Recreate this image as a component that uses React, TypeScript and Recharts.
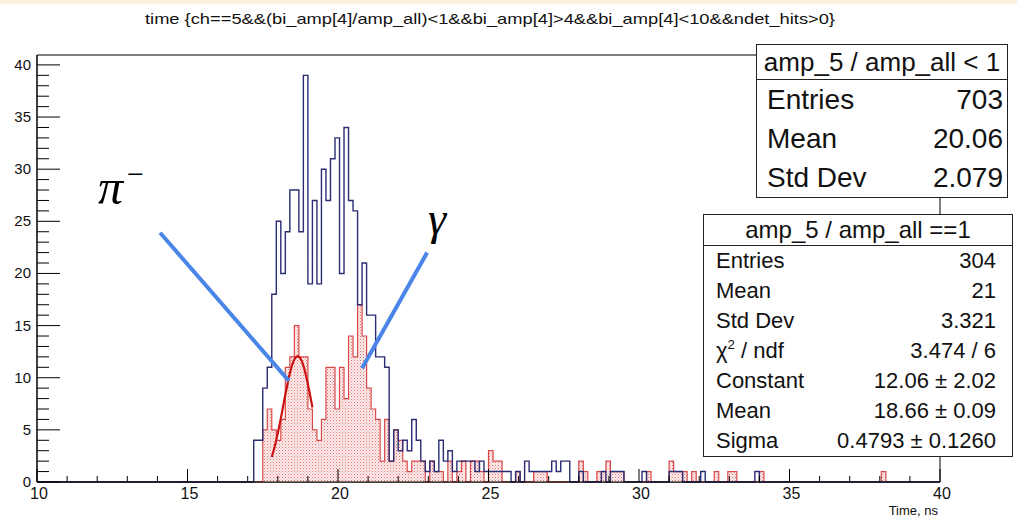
import {
  ComposedChart,
  Line,
  Area,
  XAxis,
  YAxis,
  ReferenceLine,
  ReferenceArea,
} from "recharts";

const W = 1017;
const H = 520;

// binning of the time histograms
const BIN_LOW = 10;
const BIN_WIDTH = 0.15;
const N_BINS = 200;
const Y_MAX = 40.95;

// amp_5 / amp_all < 1, counts from bin 48 (17.2 ns) on
const BLUE_FIRST_BIN = 48;
const blueCounts = [
  4, 4, 9, 11, 18, 25, 20, 24, 28, 28,
  24, 39, 19, 27, 19, 30, 27, 31, 33, 20,
  34, 27, 26, 17, 21, 16, 16, 12, 12, 11,
  2, 5, 3, 4, 3, 6, 4, 2, 1, 2,
  1, 4, 2, 3, 1, 2, 2, 2, 2, 1,
  2, 1, 1, 1, 1, 1, 1, 0, 1, 0,
  2, 1, 1, 1, 1, 1, 2, 1, 2, 2,
  0, 0, 1, 0, 0, 0, 0, 1, 0, 1,
  1, 1, 0, 0, 0, 0, 1, 0, 0, 0,
  0, 0, 1, 1, 1, 0, 0, 0, 0, 1,
  0, 0, 0, 0, 0, 0, 0, 0, 0, 0,
  0, 1,
];

// amp_5 / amp_all == 1, counts from bin 50 (17.5 ns) on
const RED_FIRST_BIN = 50;
const redCounts = [
  5, 7, 5, 4, 6, 11, 12, 15, 12, 12,
  7, 5, 4, 6, 11, 11, 7, 11, 8, 14,
  12, 17, 14, 9, 7, 6, 2, 6, 2, 5,
  4, 2, 1, 2, 2, 2, 0, 2, 1, 1,
  0, 2, 0, 1, 2, 0, 2, 2, 1, 0,
  3, 2, 2, 0, 0, 0, 1, 0, 0, 0,
  1, 1, 1, 0, 0, 0, 0, 0, 0, 0,
  2, 1, 0, 0, 1, 1, 2, 1, 1, 1,
  0, 0, 0, 0, 0, 1, 0, 0, 0, 0,
  2, 1, 1, 1, 0, 1, 0, 0, 0, 0,
  1, 0, 0, 1, 1, 0, 0, 0, 0, 0,
  1, 0, 0, 0, 0, 0, 0, 0, 0, 0,
  0, 0, 0, 0, 0, 0, 0, 0, 0, 0,
  0, 0, 0, 0, 0, 0, 0, 1,
];

// gaus fit to the red histogram
const FIT_CONSTANT = 12.06;
const FIT_MEAN = 18.66;
const FIT_SIGMA = 0.4793;
const FIT_FROM = 17.8;
const FIT_TO = 19.15;

const xTicks = Array.from({ length: 31 }, (_, i) => 10 + i);
const yTicks = Array.from({ length: 41 }, (_, i) => i);

// arrows pointing at the two peaks
const piArrow = [{ x: 14.09, y: 23.9 }, { x: 18.37, y: 9.7 }];
const gammaArrow = [{ x: 22.96, y: 22.0 }, { x: 20.8, y: 10.9 }];

const statsAll = {
  title: "amp_5 / amp_all < 1",
  rows: [
    ["Entries", "703"],
    ["Mean", "20.06"],
    ["Std Dev", "2.079"],
  ],
};

const statsOne = {
  title: "amp_5 / amp_all ==1",
  rows: [
    ["Entries", "304"],
    ["Mean", "21"],
    ["Std Dev", "3.321"],
    ["chi2", "3.474 / 6"],
    ["Constant", "12.06 \u00b1 2.02"],
    ["Mean", "18.66 \u00b1 0.09"],
    ["Sigma", "0.4793 \u00b1 0.1260"],
  ],
};

const countAt = (arr: number[], first: number, bin: number) => {
  const j = bin - first;
  return j >= 0 && j < arr.length ? arr[j] : 0;
};

const histData = Array.from({ length: N_BINS + 1 }, (_, i) => {
  const bin = Math.min(i, N_BINS - 1);
  return {
    x: +(BIN_LOW + i * BIN_WIDTH).toFixed(2),
    blue: countAt(blueCounts, BLUE_FIRST_BIN, bin),
    red: countAt(redCounts, RED_FIRST_BIN, bin),
  };
});

const fitData = Array.from({ length: 41 }, (_, i) => {
  const x = FIT_FROM + ((FIT_TO - FIT_FROM) * i) / 40;
  const z = (x - FIT_MEAN) / FIT_SIGMA;
  return { x, fit: FIT_CONSTANT * Math.exp(-0.5 * z * z) };
});

const font = "'Liberation Sans', Arial, Helvetica, sans-serif";
const serif = "'Liberation Serif', 'Times New Roman', serif";

function YTick(props: any) {
  const { x, y, payload } = props;
  const v = payload.value;
  const major = v % 5 === 0;
  return (
    <g>
      <line x1={x} x2={x + (major ? 23 : 12)} y1={y} y2={y} stroke="#000" />
      {major && (
        <text x={x - 6} y={y + 5} textAnchor="end" fontSize={15} fill="#111" fontFamily={font}>
          {v}
        </text>
      )}
    </g>
  );
}

function XTick(props: any) {
  const { x, y, payload } = props;
  const v = payload.value;
  const major = v % 5 === 0;
  return (
    <g>
      <line x1={x} x2={x} y1={y} y2={y - (major ? 13 : 6)} stroke="#000" />
      {major && (
        <text x={x + 2} y={y + 17} textAnchor="middle" fontSize={16} fill="#111" fontFamily={font}>
          {v}
        </text>
      )}
    </g>
  );
}

function StatsBox({
  stats,
  left,
  top,
  width,
  titleH,
  rowH,
  titleSize,
  rowSize,
  padL,
  padR,
}: any) {
  return (
    <div
      style={{
        position: "absolute",
        left,
        top,
        width,
        background: "#fff",
        border: "1px solid #222",
        fontFamily: font,
        color: "#111",
        boxSizing: "border-box",
      }}
    >
      <div
        style={{
          height: titleH,
          lineHeight: `${titleH}px`,
          fontSize: titleSize,
          textAlign: "center",
          borderBottom: "1px solid #222",
        }}
      >
        {stats.title}
      </div>
      {stats.rows.map(([k, v]: string[], i: number) => (
        <div
          key={i}
          style={{
            height: rowH,
            lineHeight: `${rowH}px`,
            fontSize: rowSize,
            display: "flex",
            justifyContent: "space-between",
            paddingLeft: padL,
            paddingRight: padR,
            overflow: "hidden",
          }}
        >
          <span>
            {k === "chi2" ? (
              <>
                {"\u03c7"}
                <span
                  style={{
                    fontSize: rowSize * 0.6,
                    position: "relative",
                    top: "-0.7em",
                    lineHeight: 0,
                  }}
                >
                  2
                </span>
                {" / ndf"}
              </>
            ) : (
              k
            )}
          </span>
          <span>{v}</span>
        </div>
      ))}
    </div>
  );
}

export default function App() {
  return (
    <div
      style={{
        position: "absolute",
        left: 0,
        top: 0,
        width: W,
        height: H,
        background: "#fff",
        overflow: "hidden",
      }}
    >
      <div style={{ position: "absolute", left: 0, top: 0, width: W, height: 4, background: "#fbf1dc" }} />
      <svg width={0} height={0} style={{ position: "absolute" }}>
        <defs>
          <pattern id="redDots" width={3} height={3} patternUnits="userSpaceOnUse">
            <rect width={3} height={3} fill="#fdeded" />
            <rect width={1} height={1} fill="#e07474" />
            <rect x={1.5} y={1.5} width={1} height={1} fill="#eaa0a0" />
          </pattern>
        </defs>
      </svg>
      <ComposedChart
        width={W}
        height={H}
        data={histData}
        margin={{ top: 55, right: 77, bottom: 0, left: 0 }}
      >
        <XAxis
          dataKey="x"
          type="number"
          domain={[BIN_LOW, BIN_LOW + N_BINS * BIN_WIDTH]}
          ticks={xTicks}
          interval={0}
          height={38}
          tickSize={0}
          tickMargin={0}
          tickLine={false}
          tick={<XTick />}
          axisLine={{ stroke: "#000" }}
        />
        <YAxis
          type="number"
          domain={[0, Y_MAX]}
          ticks={yTicks}
          interval={0}
          width={37}
          tickSize={0}
          tickMargin={0}
          tickLine={false}
          tick={<YTick />}
          axisLine={{ stroke: "#000" }}
        />
        <ReferenceArea
          x1={BIN_LOW}
          x2={BIN_LOW + N_BINS * BIN_WIDTH}
          y1={0}
          y2={Y_MAX}
          fill="none"
          stroke="#000"
          strokeWidth={1}
        />
        <Line
          type="stepAfter"
          dataKey="blue"
          stroke="#2a2c74"
          strokeWidth={1.4}
          dot={false}
          isAnimationActive={false}
        />
        <Area
          type="stepAfter"
          dataKey="red"
          stroke="#d84a4a"
          strokeWidth={1.2}
          fill="url(#redDots)"
          fillOpacity={1}
          baseValue={0}
          isAnimationActive={false}
        />
        <Line
          data={fitData}
          type="monotone"
          dataKey="fit"
          stroke="#cc1111"
          strokeWidth={2.2}
          dot={false}
          isAnimationActive={false}
        />
        <ReferenceLine segment={piArrow} stroke="#4a86e8" strokeWidth={4} />
        <ReferenceLine segment={gammaArrow} stroke="#4a86e8" strokeWidth={4} />
      </ComposedChart>

      <svg
        width={W}
        height={H}
        style={{ position: "absolute", left: 0, top: 0, pointerEvents: "none" }}
      >
        <text
          x={490}
          y={24}
          textAnchor="middle"
          fontSize={15}
          fontFamily={font}
          fill="#111"
          textLength={690}
          lengthAdjust="spacingAndGlyphs"
        >
          time {"{"}ch==5&amp;&amp;(bi_amp[4]/amp_all)&lt;1&amp;&amp;bi_amp[4]&gt;4&amp;&amp;bi_amp[4]&lt;10&amp;&amp;ndet_hits&gt;0{"}"}
        </text>
        <text x={938} y={515} textAnchor="end" fontSize={13} fontFamily={font} fill="#111">
          Time, ns
        </text>
        <text x={98} y={204} fontSize={50} fontStyle="italic" fontFamily={serif} fill="#000">
          {"\u03c0"}
          <tspan dx={4} dy={-20} fontSize={30} fontStyle="normal">{"\u2212"}</tspan>
        </text>
        <text x={428} y={234} fontSize={46} fontStyle="italic" fontFamily={serif} fill="#000">
          {"\u03b3"}
        </text>
      </svg>

      <StatsBox
        stats={statsAll}
        left={756}
        top={44}
        width={252}
        titleH={34}
        rowH={39}
        titleSize={26}
        rowSize={28}
        padL={10}
        padR={4}
      />
      <StatsBox
        stats={statsOne}
        left={703}
        top={214}
        width={310}
        titleH={30}
        rowH={30}
        titleSize={24}
        rowSize={22}
        padL={12}
        padR={16}
      />
    </div>
  );
}
